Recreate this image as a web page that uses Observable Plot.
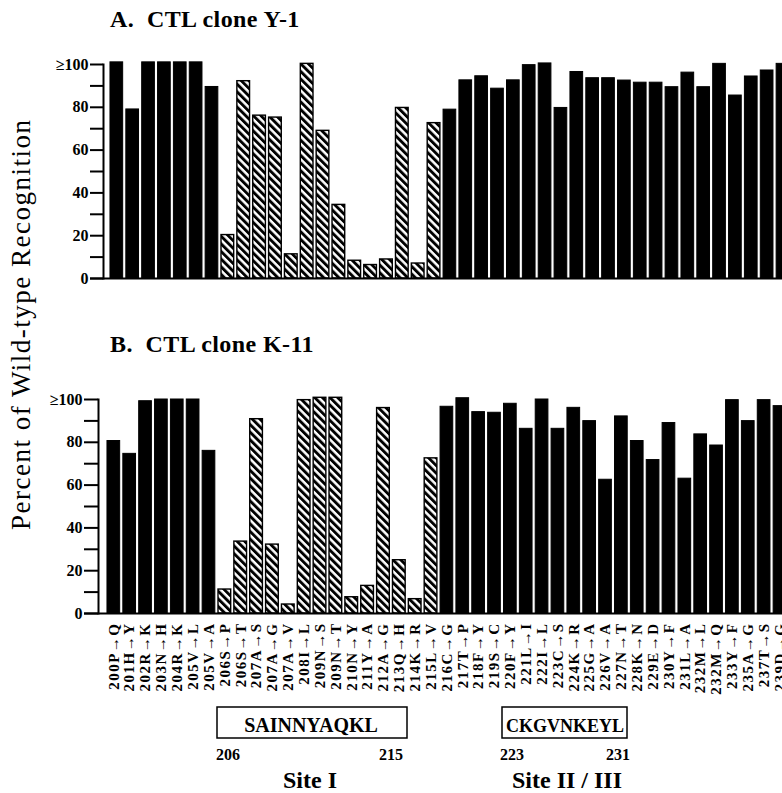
<!DOCTYPE html>
<html><head><meta charset="utf-8">
<script src="https://cdn.jsdelivr.net/npm/d3@7"></script>
<script src="https://cdn.jsdelivr.net/npm/@observablehq/plot@0.6"></script>
<style>
html,body{margin:0;padding:0;background:#fff;overflow:hidden;}
#wrap{position:relative;width:782px;height:793px;overflow:hidden;background:#fff;}
#wrap > svg{position:absolute;left:0;}
g[aria-label="x-axis tick label"] text{letter-spacing:1.5px;}
.ann text{font-family:"Liberation Serif",serif;fill:#000;}
</style></head>
<body><div id="wrap">
<svg width="0" height="0" style="position:absolute"><defs>
<pattern id="hatch" patternUnits="userSpaceOnUse" width="5.4" height="10" patternTransform="rotate(-45)">
<rect width="5.4" height="10" fill="#fff"/><rect width="2.9" height="10" fill="#000"/>
</pattern></defs></svg>
</div>
<script>
const mutations = ["200P→Q","201H→Y","202R→K","203N→H","204R→K","205V→L","205V→A","206S→P","206S→T","207A→S","207A→G","207A→V","208I→L","209N→S","209N→T","210N→Y","211Y→A","212A→G","213Q→H","214K→R","215L→V","216C→G","217T→P","218F→Y","219S→C","220F→Y","221L→I","222I→L","223C→S","224K→R","225G→A","226V→A","227N→T","228K→N","229E→D","230Y→F","231L→A","232M→L","232M→Q","233Y→F","235A→G","237T→S","239D→G"];
const cloneY1 = [101,79,101,101,101,101,89.5,20.3,92.2,76.1,75.2,11.3,100.3,69,34.4,8.3,6.3,8.9,79.7,7,72.6,78.9,92.6,94.5,88.7,92.6,99.7,100.5,79.7,96.5,93.6,93.6,92.5,91.5,91.5,89.4,96.2,89.4,100.3,85.5,94.4,97.2,100.3];
const cloneK11 = [80.6,74.6,99.2,100,100,100,76,11.2,33.6,90.8,32.2,4.2,99.7,100.8,100.8,7.6,12.9,96,24.9,6.7,72.5,96.6,100.6,94.1,93.8,98,86.3,100,86.3,96.1,89.9,62.5,92.1,80.6,71.7,89,63,83.7,78.5,99.7,89.9,99.7,96.9];
const siteI = [206, 215];
const siteII = [223, 231];
const siteIPeptide = "SAINNYAQKL";
const siteIIPeptide = "CKGVNKEYL";
const yTicks = [0,10,20,30,40,50,60,70,80,90,100];

function panel(values, o) {
  const data = mutations.map((m, i) => {
    const r = parseInt(m);
    return {m, v: values[i], site: r >= siteI[0] && r <= siteI[1]};
  });
  const marks = [
    Plot.barY(data.filter(d => !d.site), {x: "m", y: "v", fill: "black", stroke: "black", strokeWidth: 1}),
    Plot.barY(data.filter(d => d.site), {x: "m", y: "v", fill: "url(#hatch)", stroke: "black", strokeWidth: 1.4}),
    Plot.ruleY([0], {insetLeft: -o.tick, strokeWidth: 2}),
    Plot.frame({anchor: "left", strokeWidth: 2}),
    Plot.axisY({ticks: yTicks, tickSize: o.tick, tickPadding: 2, strokeWidth: 2, fontSize: 16, label: null,
      tickFormat: d => d === 100 ? "≥100" : (d % 20 === 0 ? String(d) : "")})
  ];
  if (o.xlabels) marks.push(Plot.axisX({tickRotate: -90, tickSize: 0, tickPadding: 9, fontSize: 15, label: null}));
  const svg = Plot.plot({
    width: o.width, height: o.height,
    marginLeft: o.ml, marginRight: 0, marginTop: 24, marginBottom: o.mb,
    style: {fontFamily: "Liberation Serif", fontWeight: "bold", background: "transparent", maxWidth: "none", overflow: "visible", color: "black"},
    x: {domain: mutations, range: o.xr, padding: 0.2, axis: o.xlabels ? undefined : null},
    y: {domain: [0, 100]},
    marks
  });
  svg.style.top = o.top + "px";
  return svg;
}

const wrap = document.getElementById("wrap");
wrap.appendChild(panel(cloneY1, {top: 40, width: 792, height: 248, ml: 103, mb: 10, tick: 13, xr: [106.8, 792], xlabels: false}));
wrap.appendChild(panel(cloneK11, {top: 375, width: 789, height: 328, ml: 98, mb: 90, tick: 14, xr: [103.8, 789], xlabels: true}));

const NS = "http://www.w3.org/2000/svg";
const ann = document.createElementNS(NS, "svg");
ann.setAttribute("width", 782); ann.setAttribute("height", 793);
ann.setAttribute("class", "ann");
ann.style.top = "0px";
function t(x, y, s, attrs) {
  const e = document.createElementNS(NS, "text");
  e.setAttribute("x", x); e.setAttribute("y", y);
  for (const k in attrs) e.setAttribute(k, attrs[k]);
  e.textContent = s; ann.appendChild(e); return e;
}
function r(x, y, w, h) {
  const e = document.createElementNS(NS, "rect");
  e.setAttribute("x", x); e.setAttribute("y", y); e.setAttribute("width", w); e.setAttribute("height", h);
  e.setAttribute("fill", "none"); e.setAttribute("stroke", "#000"); e.setAttribute("stroke-width", 1.5);
  ann.appendChild(e);
}
t(110, 27, "A.  CTL clone Y-1", {"font-size": 24, "font-weight": "bold", "style": "white-space:pre;letter-spacing:0.4px"});
t(110, 352, "B.  CTL clone K-11", {"font-size": 24, "font-weight": "bold", "style": "white-space:pre;letter-spacing:0.4px"});
t(0, 0, "Percent of Wild-type Recognition", {"font-size": 27, "text-anchor": "middle", "transform": "translate(30,325) rotate(-90)", "textLength": 410, "lengthAdjust": "spacing"});
r(217, 707, 190, 31);
t(311, 732, siteIPeptide, {"font-size": 20, "font-weight": "bold", "text-anchor": "middle"});
r(502, 707, 125, 31);
t(565, 732, siteIIPeptide, {"font-size": 19, "font-weight": "bold", "text-anchor": "middle", "textLength": 118, "lengthAdjust": "spacingAndGlyphs"});
t(216, 760, String(siteI[0]), {"font-size": 16, "font-weight": "bold"});
t(403, 760, String(siteI[1]), {"font-size": 16, "font-weight": "bold", "text-anchor": "end"});
t(500, 760, String(siteII[0]), {"font-size": 16, "font-weight": "bold"});
t(630, 760, String(siteII[1]), {"font-size": 16, "font-weight": "bold", "text-anchor": "end"});
t(310, 788, "Site I", {"font-size": 24, "font-weight": "bold", "text-anchor": "middle"});
t(567, 788, "Site II / III", {"font-size": 24, "font-weight": "bold", "text-anchor": "middle"});
wrap.appendChild(ann);
</script>
</body></html>
